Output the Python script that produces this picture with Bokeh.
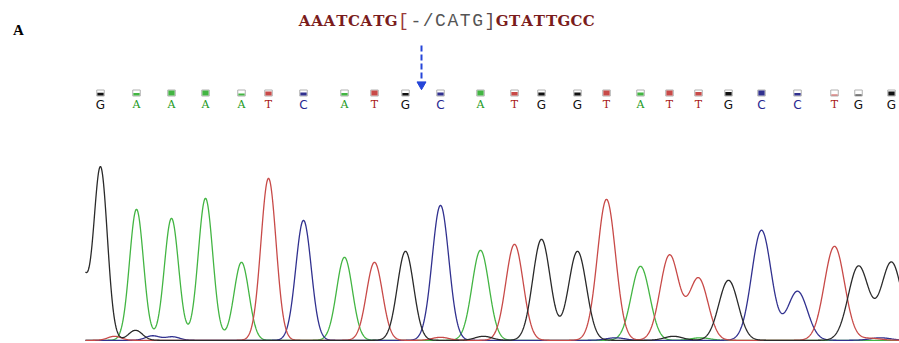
import numpy as np
from bokeh.plotting import figure
from bokeh.models import Range1d, ColumnDataSource
from bokeh.core.properties import value
from bokeh.embed import file_html
from bokeh.resources import INLINE

# ---- data ----
bases = list("GAAAATCATGCATGGTATTGCCTGG")
base_pos = [100, 136, 171, 205, 241, 268, 303, 344, 374, 405, 440, 480, 514,
            541, 577, 606, 640, 669, 698, 728, 761, 797, 834, 858, 891]
peak_height = [1730, 1310, 1220, 1420, 780, 1620, 1200, 830, 780, 890, 1350,
               900, 960, 1010, 890, 1410, 740, 850, 620, 600, 1100, 490, 940,
               740, 780]
quality = [0.55, 0.5, 1.0, 1.0, 0.4, 0.8, 0.6, 0.5, 1.0, 0.5, 0.6, 1.0, 0.7,
           0.6, 0.6, 1.0, 0.6, 1.0, 0.7, 0.7, 1.0, 0.5, 0.2, 0.2, 0.8]

minor_base = ["G", "G", "T", "C", "C", "T", "G", "C", "G", "A", "T", "C"]
minor_pos = [80, 135, 114, 152, 172, 440, 483, 615, 673, 700, 870, 880]
minor_height = [700, 100, 40, 45, 35, 30, 40, 25, 40, 25, 20, 25]

title_left = "AAATCATG"
title_mid = "[-/CATG]"
title_right = "GTATTGCC"
insertion_after = 9  # index of base before the insertion site

# ---- styles ----
trace_col = {"G": "#2a2a2a", "A": "#43b543", "T": "#c84a48", "C": "#31318f"}
letter_col = {"G": "#111111", "A": "#229922", "T": "#a81818", "C": "#26268f"}

W, H = 899, 343
p = figure(width=W, height=H, x_range=Range1d(0, 899), y_range=Range1d(-20, 3410),
           output_backend="svg", toolbar_location=None,
           x_axis_type=None, y_axis_type=None, min_border=0)
p.grid.visible = False
p.outline_line_color = None
p.background_fill_color = "white"
p.border_fill_color = "white"

# ---- traces ----
xs = np.arange(85, 899.01, 0.5)

def sigma(x):
    return 6.8 + (x - 100) * 0.0045

for b in ["A", "C", "T", "G"]:
    y = np.full_like(xs, 12.0)
    for bb, pos, h in zip(bases + minor_base, base_pos + minor_pos, peak_height + minor_height):
        if bb == b:
            s = sigma(pos)
            y = y + h * np.exp(-((xs - pos) ** 2) / (2 * s * s))
    p.line(xs, y, line_color=trace_col[b], line_width=1.3)

# ---- quality boxes and base letters ----
box_w = 7.5
box_bot, box_top = 2455, 2515
for b, pos, q in zip(bases, base_pos, quality):
    p.quad(left=pos - box_w / 2, right=pos + box_w / 2, bottom=box_bot, top=box_top,
           fill_color="white", line_color="#b0b0b0", line_width=1)
    p.quad(left=pos - box_w / 2 + 0.6, right=pos + box_w / 2 - 0.6, bottom=box_bot + 4,
           top=box_bot + 4 + (box_top - box_bot - 8) * q,
           fill_color=trace_col[b] if b != "G" else "#111111", line_color=None)

serif_src = ColumnDataSource(dict(
    x=[x for b, x in zip(bases, base_pos) if b in "AT"],
    t=[b for b in bases if b in "AT"],
    c=[letter_col[b] for b in bases if b in "AT"]))
sans_src = ColumnDataSource(dict(
    x=[x for b, x in zip(bases, base_pos) if b in "GC"],
    t=[b for b in bases if b in "GC"],
    c=[letter_col[b] for b in bases if b in "GC"]))
p.text(x="x", y=2370, text="t", text_color="c", source=serif_src,
       text_font=value("DejaVu Serif"), text_font_size="11px",
       text_align="center", text_baseline="middle")
p.text(x="x", y=2370, text="t", text_color="c", source=sans_src,
       text_font=value("DejaVu Sans"), text_font_size="12px",
       text_align="center", text_baseline="middle")

# ---- title sequence ----
pitch = 12.35
x0 = 298 + pitch / 2
chars = list(title_left + title_mid + title_right)
tx = [x0 + i * pitch for i in range(len(chars))]
n1, n2 = len(title_left), len(title_mid)
bold_idx = list(range(n1)) + list(range(n1 + n2, len(chars)))
p.text(x=[tx[i] for i in bold_idx], y=3210, text=[chars[i] for i in bold_idx],
       text_color="#7a1c1c", text_font=value("DejaVu Serif"), text_font_style="bold",
       text_font_size="15px", text_align="center", text_baseline="middle")
mid_cols = ["#9a3a3a"] + ["#555555"] * (n2 - 2) + ["#5a4848"]
p.text(x=tx[n1:n1 + n2], y=3210, text=chars[n1:n1 + n2], text_color=mid_cols,
       text_font=value("Liberation Mono"), text_font_size="18px",
       text_align="center", text_baseline="middle")

# ---- panel letter ----
p.text(x=[18], y=[3120], text=["A"], text_color="black",
       text_font=value("Liberation Serif"), text_font_style="bold",
       text_font_size="15px", text_align="center", text_baseline="middle")

# ---- insertion arrow ----
ax = (base_pos[insertion_after] + base_pos[insertion_after + 1]) / 2 - 1.5
p.segment(x0=[ax], y0=[2960], x1=[ax], y1=[2600], line_color="#2545d8",
          line_width=2, line_dash="6 3")
p.scatter(x=[ax], y=[2570], marker="inverted_triangle", size=9,
          fill_color="#2545d8", line_color="#2545d8")

open("out.html", "w").write(file_html(p, INLINE))
